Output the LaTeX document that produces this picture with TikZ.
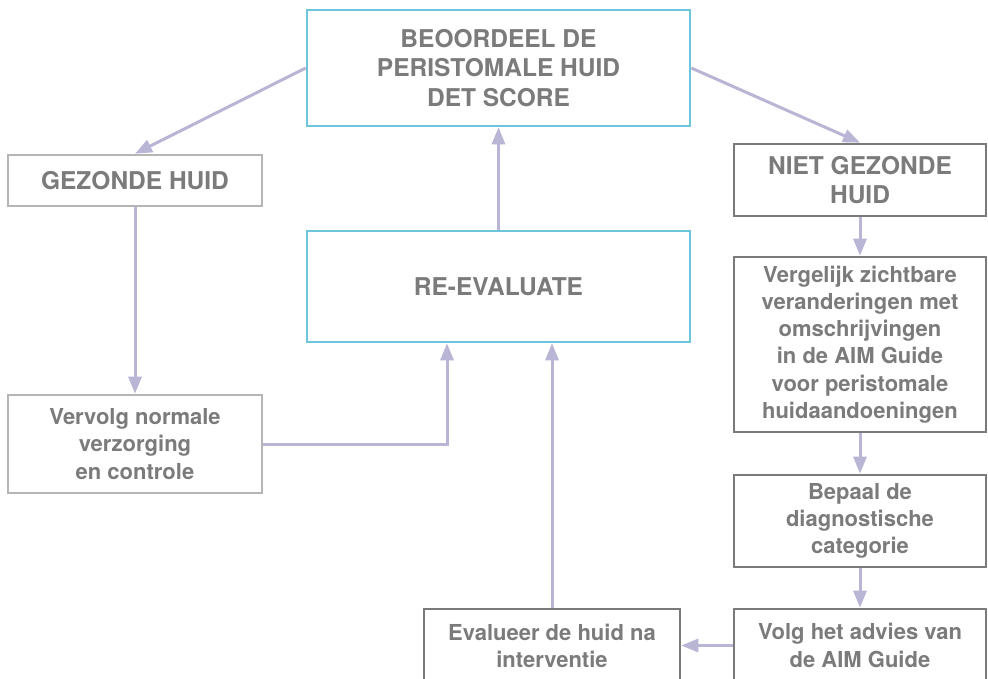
\documentclass[tikz,border=0pt]{standalone}
\usepackage{fontspec}
\setmainfont{TeX Gyre Heros}
\usetikzlibrary{arrows.meta,calc}
\definecolor{cyanb}{HTML}{6CC5DA}
\definecolor{lgray}{HTML}{B5B5B5}
\definecolor{dgray}{HTML}{7A7A7A}
\definecolor{txt}{HTML}{7B7B7B}
\definecolor{lav}{HTML}{B9B5D5}
\begin{document}
\begin{tikzpicture}[x=1pt,y=-1pt,
  box/.style={draw, line width=2.6pt, rectangle, inner sep=0pt, align=center,
    text=txt, font=\bfseries\fontsize{22}{27.2}\selectfont},
  capbox/.style={box, font=\bfseries\fontsize{24.5}{29.5}\selectfont},
  cbox/.style={capbox, draw=cyanb},
  lbox/.style={draw=lgray},
  dbox/.style={draw=dgray},
  conn/.style={draw=lav, line width=3pt, -{Triangle[length=17pt,width=13pt]}}]
\fill[white] (0,0) rectangle (988,678);
\useasboundingbox (0,0) rectangle (988,678);
\node[cbox, minimum width=383pt, minimum height=116pt] (top) at (498.5,68)
  {BEOORDEEL DE\\PERISTOMALE HUID\\DET SCORE};
\node[cbox, minimum width=383pt, minimum height=111pt] (re) at (498.5,286.5)
  {RE-EVALUATE};
\node[capbox, lbox, minimum width=254pt, minimum height=51pt] (gez) at (135,180.5)
  {GEZONDE HUID};
\node[box, lbox, minimum width=254pt, minimum height=98pt] (verv) at (135,444)
  {Vervolg normale\\verzorging\\en controle};
\node[capbox, dbox, minimum width=252pt, minimum height=72pt] (niet) at (860,180)
  {NIET GEZONDE\\HUID};
\node[box, dbox, minimum width=252pt, minimum height=175pt] (verg) at (860,344.5)
  {Vergelijk zichtbare\\veranderingen met\\omschrijvingen\\in de AIM Guide\\voor peristomale\\huidaandoeningen};
\node[box, dbox, minimum width=252pt, minimum height=92pt] (bep) at (860,521)
  {Bepaal de\\diagnostische\\categorie};
\node[box, dbox, minimum width=252pt, minimum height=73pt] (volg) at (860,645.5)
  {Volg het advies van\\de AIM Guide};
\node[box, dbox, minimum width=256pt, minimum height=73pt] (eval) at (552,645.5)
  {Evalueer de huid na\\interventie};
\coordinate (reIn) at ([xshift=-51.5pt]re.south);
\draw[conn] (top.west) -- (gez.north);
\draw[conn] (top.east) -- (niet.north);
\draw[conn] (re.north) -- (top.south);
\draw[conn] (gez.south) -- (verv.north);
\draw[conn] (verv.east) -| (reIn);
\draw[conn] (eval.north) -- (eval.north |- re.south);
\draw[conn] (niet.south) -- (verg.north);
\draw[conn] (verg.south) -- (bep.north);
\draw[conn] (bep.south) -- (volg.north);
\draw[conn] (volg.west) -- (eval.east);
\end{tikzpicture}
\end{document}
